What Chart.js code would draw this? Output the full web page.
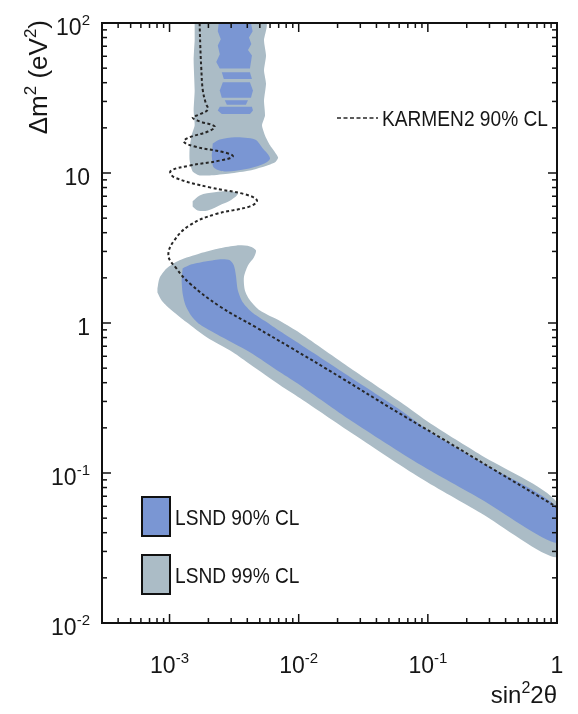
<!DOCTYPE html>
<html lang="en">
<head>
<meta charset="utf-8">
<title>LSND / KARMEN2</title>
<script src="https://cdn.jsdelivr.net/npm/chart.js@4.4.1/dist/chart.umd.min.js"></script>
<style>
  html, body { margin: 0; padding: 0; background: #ffffff; }
  #caixa { width: 578px; height: 714px; position: relative; }
</style>
</head>
<body>
<div id="caixa"><canvas id="grafico"></canvas></div>
<script>
// Eixos =====================================================================

const xMin = 3e-4;
const xMax = 1;
const yMin = 1e-2;
const yMax = 1e2;

const xTicks = [1e-3, 1e-2, 1e-1, 1];
const xTickBase = ["10", "10", "10", "1"];
const xTickExp = ["-3", "-2", "-1", ""];

const yTicks = [1e-2, 1e-1, 1, 10, 1e2];
const yTickBase = ["10", "10", "1", "10", "10"];
const yTickExp = ["-2", "-1", "", "", "2"];

// KARMEN2 90% CL (sin^2 2theta, dm^2) ======================================

const karmenX = [1.71e-3, 1.73e-3, 1.76e-3, 1.81e-3, 1.91e-3, 1.98e-3, 1.71e-3, 1.51e-3, 1.71e-3, 2.24e-3,
  1.98e-3, 1.43e-3, 1.29e-3, 1.57e-3, 2.68e-3, 3.09e-3, 2.45e-3, 1.43e-3, 1.02e-3, 1.09e-3,
  2.05e-3, 3.83e-3, 4.75e-3, 4.19e-3, 2.24e-3, 1.43e-3, 1.09e-3, 0.98e-3, 1.13e-3, 1.43e-3,
  2.45e-3, 4.67e-3, 8.59e-3, 2.10e-2, 5.15e-2, 0.126, 0.309, 1.0];
const karmenY = [100, 70.8, 50.5, 35.5, 29.1, 26.5, 24.6, 23.4, 22.1, 20.4,
  18.9, 17.3, 16.2, 15.0, 13.7, 12.9, 12.1, 11.2, 10.3, 9.35,
  8.02, 7.21, 6.57, 5.99, 5.30, 4.48, 3.56, 2.82, 2.31, 1.84,
  1.29, 0.936, 0.689, 0.435, 0.271, 0.1715, 0.108, 0.0592];

// LSND 99% CL ===============================================================

const lsnd99BandaX = [8.06e-4, 8.36e-4, 9.48e-4, 1.196e-3, 1.712e-3, 2.449e-3, 3.322e-3, 4.194e-3, 4.670e-3, 4.505e-3,
  4.046e-3, 3.767e-3, 3.835e-3, 4.194e-3, 5.017e-3, 7.178e-3, 1.027e-2, 2.516e-2, 6.165e-2, 0.1055,
  0.2585, 1.0, 1.0, 0.2585, 8.822e-2, 2.516e-2, 1.027e-2, 7.178e-3, 4.194e-3, 3.093e-3,
  1.941e-3, 1.356e-3, 1.0e-3, 8.66e-4, 8.06e-4];
const lsnd99BandaY = [1.70, 1.99, 2.31, 2.62, 2.91, 3.15, 3.29, 3.24, 3.05, 2.74,
  2.42, 2.02, 1.65, 1.42, 1.21, 1.03, 0.854, 0.499, 0.296, 0.213,
  0.1315, 0.0639, 0.0275, 0.0540, 0.0923, 0.187, 0.315, 0.385, 0.531, 0.638,
  0.803, 1.01, 1.25, 1.42, 1.60];

const lsnd99ColunaX = [1.565e-3, 5.586e-3, 5.389e-3, 5.586e-3, 5.389e-3, 5.586e-3, 5.389e-3, 5.486e-3, 5.200e-3, 5.486e-3,
  6.0e-3, 6.925e-3, 6.563e-3, 5.486e-3, 4.194e-3, 2.931e-3, 2.048e-3, 1.712e-3, 1.510e-3, 1.431e-3,
  1.431e-3, 1.483e-3, 1.565e-3, 1.537e-3, 1.565e-3, 1.537e-3, 1.565e-3];
const lsnd99ColunaY = [100, 100, 76.4, 60.8, 48.3, 39.5, 30.4, 24.2, 20.8, 17.8,
  15.3, 12.7, 11.8, 11.1, 10.4, 9.94, 9.64, 9.64, 10.25, 12.1,
  14.8, 17.8, 20.8, 26.1, 35.5, 56.3, 76.4];

const lsnd99IlhaX = [1.510e-3, 1.712e-3, 2.240e-3, 2.931e-3, 3.382e-3, 3.038e-3, 2.539e-3, 1.976e-3, 1.652e-3, 1.510e-3];
const lsnd99IlhaY = [6.47, 7.09, 7.43, 7.54, 7.31, 6.67, 6.18, 5.63, 5.63, 5.99];

// LSND 90% CL ===============================================================

const lsnd90BandaX = [1.262e-3, 1.483e-3, 1.941e-3, 2.539e-3, 2.931e-3, 3.149e-3, 3.263e-3, 3.382e-3, 3.700e-3, 4.346e-3,
  5.486e-3, 7.178e-3, 1.027e-2, 2.516e-2, 6.165e-2, 0.1055, 0.2585, 1.0, 1.0, 0.2585,
  8.822e-2, 2.516e-2, 1.027e-2, 7.178e-3, 4.194e-3, 2.322e-3, 1.712e-3, 1.483e-3, 1.332e-3, 1.262e-3,
  1.240e-3];
const lsnd90BandaY = [2.31, 2.46, 2.58, 2.66, 2.62, 2.42, 2.08, 1.65, 1.37, 1.18,
  1.03, 0.880, 0.721, 0.435, 0.262, 0.187, 0.118, 0.0592, 0.0341, 0.0669,
  0.113, 0.225, 0.385, 0.469, 0.638, 0.841, 0.980, 1.11, 1.31, 1.58,
  1.92];

const lsnd90BlocoX = [2.161e-3, 2.449e-3, 3.205e-3, 4.587e-3, 5.200e-3, 6.0e-3, 5.200e-3, 3.835e-3, 2.679e-3, 2.200e-3, 2.122e-3];
const lsnd90BlocoY = [15.7, 16.7, 17.3, 16.7, 14.8, 12.5, 11.4, 10.6, 10.25, 10.9, 13.1];

const lsnd90Faixa1X = [2.406e-3, 4.27e-3, 4.40e-3, 4.12e-3, 4.30e-3, 4.05e-3, 4.346e-3, 4.194e-3, 2.449e-3, 2.30e-3, 2.45e-3, 2.363e-3, 2.494e-3, 2.363e-3];
const lsnd90Faixa1Y = [100, 100, 88.0, 80.0, 72.5, 66.0, 60.8, 49.8, 49.8, 55.0, 62.0, 70.8, 78.0, 88.0];
const lsnd90Faixa2X = [2.539e-3, 4.194e-3, 4.346e-3, 2.632e-3];
const lsnd90Faixa2Y = [47.0, 47.0, 42.3, 42.3];
const lsnd90Faixa3X = [2.585e-3, 4.194e-3, 4.425e-3, 4.27e-3, 2.539e-3, 2.449e-3];
const lsnd90Faixa3Y = [40.3, 40.3, 35.5, 31.7, 31.7, 35.5];
const lsnd90Faixa4X = [2.679e-3, 4.046e-3, 3.903e-3, 2.777e-3];
const lsnd90Faixa4Y = [30.6, 30.6, 28.5, 28.5];
const lsnd90Faixa5X = [2.449e-3, 4.346e-3, 4.425e-3, 4.194e-3, 2.539e-3, 2.363e-3];
const lsnd90Faixa5Y = [27.6, 27.6, 26.1, 24.7, 24.7, 26.1];

const legendaLsnd = ["LSND 90% CL", "LSND 99% CL"];
const legendaKarmen = "KARMEN2 90% CL";

// Estilo ====================================================================

const COR_90 = "#7a96d3";
const COR_99 = "#abbcc6";
const COR_TEXTO = "#161616";
const FONTE = "'Liberation Sans', Arial, sans-serif";

function pontos(xs, ys) {
  return xs.map((x, i) => ({ x: x, y: ys[i] }));
}

function regiao(xs, ys, cor, tensao, ordem) {
  return {
    data: pontos(xs, ys),
    showLine: true,
    fill: "shape",
    backgroundColor: cor,
    borderWidth: 0,
    pointRadius: 0,
    tension: tensao,
    order: ordem,
  };
}

const dataSets = [
  {
    data: pontos(karmenX, karmenY),
    showLine: true,
    fill: false,
    borderColor: "#262626",
    borderWidth: 2,
    borderDash: [3, 2.5],
    pointRadius: 0,
    tension: 0.4,
    order: 0,
  },
  regiao(lsnd90BandaX, lsnd90BandaY, COR_90, 0.25, 1),
  regiao(lsnd90BlocoX, lsnd90BlocoY, COR_90, 0.3, 1),
  regiao(lsnd90Faixa1X, lsnd90Faixa1Y, COR_90, 0, 1),
  regiao(lsnd90Faixa2X, lsnd90Faixa2Y, COR_90, 0, 1),
  regiao(lsnd90Faixa3X, lsnd90Faixa3Y, COR_90, 0, 1),
  regiao(lsnd90Faixa4X, lsnd90Faixa4Y, COR_90, 0, 1),
  regiao(lsnd90Faixa5X, lsnd90Faixa5Y, COR_90, 0, 1),
  regiao(lsnd99BandaX, lsnd99BandaY, COR_99, 0.25, 2),
  regiao(lsnd99ColunaX, lsnd99ColunaY, COR_99, 0.2, 2),
  regiao(lsnd99IlhaX, lsnd99IlhaY, COR_99, 0.35, 2),
];

// Moldura, marcas e textos ==================================================

function linha(ctx, x1, y1, x2, y2) {
  ctx.beginPath();
  ctx.moveTo(x1, y1);
  ctx.lineTo(x2, y2);
  ctx.stroke();
}

function marcasLog(min, max) {
  const lista = [];
  for (let e = Math.floor(Math.log10(min)); e <= Math.ceil(Math.log10(max)); e++) {
    for (let m = 1; m <= 9; m++) {
      const v = m * Math.pow(10, e);
      if (v >= min * 0.999 && v <= max * 1.001) lista.push({ v: v, major: m === 1 });
    }
  }
  return lista;
}

// partes: [[texto, sobrescrito], ...]
function largura(ctx, partes, tam, tamSup) {
  let w = 0;
  partes.forEach(([t, sup]) => {
    ctx.font = (sup ? tamSup : tam) + "px " + FONTE;
    w += ctx.measureText(t).width;
  });
  return w;
}

function escreve(ctx, partes, x, y, tam, tamSup, subida) {
  let cx = x;
  partes.forEach(([t, sup]) => {
    ctx.font = (sup ? tamSup : tam) + "px " + FONTE;
    ctx.fillText(t, cx, sup ? y - subida : y);
    cx += ctx.measureText(t).width;
  });
}

function potencia(base, exp) {
  return exp ? [[base, false], [exp, true]] : [[base, false]];
}

const moldura = {
  id: "moldura",
  afterDraw(chart) {
    const { ctx, chartArea: a, scales } = chart;
    const sx = scales.x;
    const sy = scales.y;
    ctx.save();
    ctx.strokeStyle = "#111111";
    ctx.fillStyle = COR_TEXTO;
    ctx.textAlign = "left";
    ctx.textBaseline = "alphabetic";

    // marcas para dentro nos quatro lados
    ctx.lineWidth = 1.5;
    marcasLog(sx.min, sx.max).forEach((t) => {
      const px = sx.getPixelForValue(t.v);
      const len = t.major ? 9 : 5;
      linha(ctx, px, a.bottom, px, a.bottom - len);
      linha(ctx, px, a.top, px, a.top + len);
    });
    marcasLog(sy.min, sy.max).forEach((t) => {
      const py = sy.getPixelForValue(t.v);
      const len = t.major ? 9 : 5;
      linha(ctx, a.left, py, a.left + len, py);
      linha(ctx, a.right, py, a.right - len, py);
    });

    ctx.lineWidth = 2;
    ctx.strokeRect(a.left, a.top, a.right - a.left, a.bottom - a.top);

    // rótulos dos eixos
    xTicks.forEach((v, i) => {
      const partes = potencia(xTickBase[i], xTickExp[i]);
      const w = largura(ctx, partes, 23, 15);
      escreve(ctx, partes, sx.getPixelForValue(v) - w / 2, a.bottom + 50, 23, 15, 10);
    });
    yTicks.forEach((v, i) => {
      const partes = potencia(yTickBase[i], yTickExp[i]);
      const w = largura(ctx, partes, 23, 15);
      escreve(ctx, partes, a.left - 12 - w, sy.getPixelForValue(v) + 12, 23, 15, 10);
    });

    // títulos
    const tituloX = [["sin", false], ["2", true], ["2θ", false]];
    const wx = largura(ctx, tituloX, 24, 16);
    escreve(ctx, tituloX, a.right - wx, a.bottom + 80, 24, 16, 10);

    const tituloY = [["Δm", false], ["2", true], [" (eV", false], ["2", true], [")", false]];
    const wy = largura(ctx, tituloY, 26, 17);
    ctx.save();
    ctx.translate(47, a.top - 3);
    ctx.rotate(-Math.PI / 2);
    escreve(ctx, tituloY, -wy, 0, 26, 17, 11);
    ctx.restore();

    // legenda KARMEN2
    const yk = a.top + 95;
    ctx.save();
    ctx.strokeStyle = "#262626";
    ctx.lineWidth = 1.5;
    ctx.setLineDash([4, 2.5]);
    linha(ctx, a.left + 235, yk, a.left + 276, yk);
    ctx.restore();
    ctx.save();
    ctx.translate(a.left + 280, yk + 8);
    ctx.scale(0.87, 1);
    ctx.font = "22px " + FONTE;
    ctx.fillText(legendaKarmen, 0, 0);
    ctx.restore();

    // legenda LSND
    [COR_90, COR_99].forEach((cor, i) => {
      const bx = a.left + 40;
      const by = a.bottom - 126 + i * 58;
      ctx.fillStyle = cor;
      ctx.fillRect(bx, by, 28, 39);
      ctx.strokeStyle = "#111111";
      ctx.lineWidth = 2;
      ctx.strokeRect(bx, by, 28, 39);
      ctx.fillStyle = COR_TEXTO;
      ctx.save();
      ctx.translate(bx + 33, by + 28);
      ctx.scale(0.87, 1);
      ctx.font = "22px " + FONTE;
      ctx.fillText(legendaLsnd[i], 0, 0);
      ctx.restore();
    });

    ctx.restore();
  },
};

// Gráfico ====================================================================

const config = {
  type: "scatter",
  data: { datasets: dataSets },
  options: {
    responsive: true,
    maintainAspectRatio: false,
    animation: false,
    events: [],
    layout: { padding: { left: 102, right: 21, top: 23, bottom: 91 } },
    scales: {
      x: { type: "logarithmic", min: xMin, max: xMax, display: false },
      y: { type: "logarithmic", min: yMin, max: yMax, display: false },
    },
    plugins: {
      legend: { display: false },
      tooltip: { enabled: false },
    },
  },
  plugins: [moldura],
};

const grafico = new Chart(document.getElementById("grafico"), config);
</script>
</body>
</html>
